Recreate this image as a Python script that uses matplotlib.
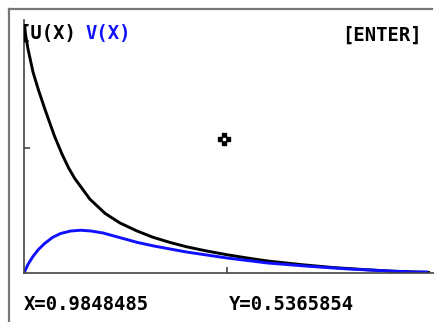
import matplotlib
matplotlib.use('Agg')
import matplotlib.pyplot as plt
from matplotlib.lines import Line2D

# values
u_x = [0.0, 0.02, 0.044, 0.07, 0.103, 0.15, 0.187, 0.22, 0.25, 0.325, 0.4, 0.473,
       0.557, 0.635, 0.72, 0.8, 0.9, 1.0, 1.1, 1.2, 1.36, 1.52, 1.69, 1.82, 2.0]
u_y = [0.99, 0.895, 0.805, 0.735, 0.655, 0.548, 0.476, 0.42, 0.378, 0.295, 0.238,
       0.2, 0.168, 0.143, 0.122, 0.105, 0.088, 0.073, 0.06, 0.048, 0.034, 0.022,
       0.013, 0.007, 0.002]

v_x = [0.0, 0.02, 0.044, 0.07, 0.1, 0.14, 0.18, 0.23, 0.28, 0.33, 0.39, 0.47,
       0.56, 0.64, 0.72, 0.8, 0.9, 1.0, 1.2, 1.4, 1.6, 1.8, 1.92, 1.99]
v_y = [0.0, 0.035, 0.066, 0.093, 0.117, 0.142, 0.158, 0.168, 0.171, 0.168,
       0.16, 0.142, 0.122, 0.108, 0.096, 0.084, 0.072, 0.06, 0.04, 0.027,
       0.016, 0.008, 0.004, 0.004]

cursor_x = 0.9848485
cursor_y = 0.5365854
labels = ['[U(X)', 'V(X)']
hint = '[ENTER]'

W, H = 434, 322
fig = plt.figure(figsize=(W / 100, H / 100), dpi=100)
fig.patch.set_facecolor('white')

# axes box in pixels: left 24, right 434, top 20, bottom 273
left, right, top, bottom = 24, 434, 20, 273
ax = fig.add_axes([left / W, (H - bottom) / H, (right - left) / W, (bottom - top) / H])
ax.set_xlim(0, (right - left) / 203)
ax.set_ylim(0, (bottom - top) / 250)

ax.plot(u_x, u_y, color='black', lw=2.1, solid_capstyle='butt')
ax.plot(v_x, v_y, color='#1010ff', lw=2.1, solid_capstyle='butt')

# free cursor
ax.plot(cursor_x, cursor_y, marker='P', ms=9, color='black', mec='black')
ax.plot(cursor_x, cursor_y, marker='s', ms=1.5, color='white', mec='white')

for s in ['top', 'right']:
    ax.spines[s].set_visible(False)
for s in ['left', 'bottom']:
    ax.spines[s].set_color('#444444')
    ax.spines[s].set_linewidth(1.2)
ax.set_xticks([1])
ax.set_yticks([0.5])
ax.tick_params(direction='in', length=4, width=1.2, color='#444444',
               labelbottom=False, labelleft=False)
ax.set_facecolor('none')

# outer screen frame (top and left only)
fig.add_artist(Line2D([9 / W, 9 / W], [0, 1 - 9 / H], transform=fig.transFigure,
                      color='#777777', lw=1.6))
fig.add_artist(Line2D([9 / W, 0.995], [1 - 9 / H, 1 - 9 / H], transform=fig.transFigure,
                      color='#777777', lw=1.6))

font = dict(family='DejaVu Sans Mono', weight='bold', fontsize=13.6)
fig.text(19 / W, 1 - 33 / H, labels[0], color='black', va='center', ha='left', **font)
fig.text(85 / W, 1 - 33 / H, labels[1], color='#1010ff', va='center', ha='left', **font)
fig.text(422 / W, 1 - 35 / H, hint, color='black', va='center', ha='right', **font)
fig.text(24 / W, 1 - 305 / H, 'X=%.7f' % cursor_x, color='black', va='center', ha='left', **font)
fig.text(229 / W, 1 - 305 / H, 'Y=%.7f' % cursor_y, color='black', va='center', ha='left', **font)

fig.savefig('out.png', dpi=100)
